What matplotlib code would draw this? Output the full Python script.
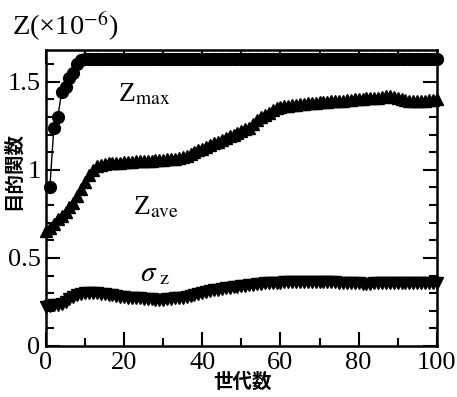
import numpy as np
import matplotlib
matplotlib.use("Agg")
import matplotlib.pyplot as plt
from matplotlib.ticker import MultipleLocator

plt.rcParams['font.family'] = ['Liberation Serif', 'DejaVu Serif']
plt.rcParams['mathtext.fontset'] = 'stix'

# generations
gen = list(range(0, 101))
gen_max = list(range(1, 101))

# Z_max (best objective), gen 1..100
z_max = [0.905, 1.24, 1.30, 1.44, 1.47, 1.52, 1.55, 1.60, 1.625, 1.63,
         1.63, 1.63, 1.63, 1.63, 1.63, 1.63, 1.63, 1.63, 1.63, 1.63,
         1.63, 1.63, 1.63, 1.63, 1.63, 1.63, 1.63, 1.63, 1.63, 1.63,
         1.63, 1.63, 1.63, 1.63, 1.63, 1.63, 1.63, 1.63, 1.63, 1.63,
         1.63, 1.63, 1.63, 1.63, 1.63, 1.63, 1.63, 1.63, 1.63, 1.63,
         1.63, 1.63, 1.63, 1.63, 1.63, 1.63, 1.63, 1.63, 1.63, 1.63,
         1.63, 1.63, 1.63, 1.63, 1.63, 1.63, 1.63, 1.63, 1.63, 1.63,
         1.63, 1.63, 1.63, 1.63, 1.63, 1.63, 1.63, 1.63, 1.63, 1.63,
         1.63, 1.63, 1.63, 1.63, 1.63, 1.63, 1.63, 1.63, 1.63, 1.63,
         1.63, 1.63, 1.63, 1.63, 1.63, 1.63, 1.63, 1.63, 1.63, 1.63]

# Z_ave (mean objective), gen 0..100
z_ave = [0.65, 0.67, 0.69, 0.72, 0.74, 0.76, 0.79, 0.81, 0.85, 0.89,
         0.93, 0.97, 1.00, 1.02, 1.03, 1.035, 1.04, 1.04, 1.04, 1.04,
         1.045, 1.045, 1.045, 1.05, 1.05, 1.05, 1.05, 1.05, 1.055, 1.055,
         1.055, 1.06, 1.06, 1.06, 1.065, 1.07, 1.08, 1.09, 1.10, 1.11,
         1.12, 1.13, 1.14, 1.15, 1.16, 1.17, 1.18, 1.19, 1.20, 1.21,
         1.22, 1.23, 1.24, 1.26, 1.28, 1.30, 1.31, 1.325, 1.34, 1.35,
         1.355, 1.36, 1.365, 1.37, 1.37, 1.375, 1.375, 1.38, 1.38, 1.38,
         1.385, 1.385, 1.385, 1.39, 1.39, 1.39, 1.39, 1.395, 1.395, 1.40,
         1.40, 1.40, 1.405, 1.41, 1.41, 1.41, 1.415, 1.42, 1.42, 1.415,
         1.41, 1.40, 1.395, 1.39, 1.39, 1.39, 1.39, 1.39, 1.395, 1.395,
         1.40]

# sigma_z, gen 0..100
sigma = [0.22, 0.225, 0.23, 0.235, 0.24, 0.25, 0.265, 0.28, 0.29, 0.295,
         0.30, 0.30, 0.30, 0.30, 0.295, 0.295, 0.29, 0.29, 0.285, 0.28,
         0.28, 0.275, 0.275, 0.27, 0.27, 0.265, 0.265, 0.265, 0.26, 0.26,
         0.26, 0.265, 0.265, 0.27, 0.27, 0.275, 0.28, 0.285, 0.29, 0.295,
         0.30, 0.305, 0.31, 0.315, 0.32, 0.325, 0.33, 0.33, 0.335, 0.335,
         0.34, 0.34, 0.345, 0.345, 0.35, 0.35, 0.355, 0.355, 0.36, 0.36,
         0.36, 0.365, 0.365, 0.365, 0.365, 0.365, 0.365, 0.365, 0.365, 0.365,
         0.365, 0.365, 0.365, 0.365, 0.365, 0.36, 0.36, 0.36, 0.355, 0.355,
         0.355, 0.35, 0.35, 0.35, 0.355, 0.355, 0.355, 0.36, 0.36, 0.36,
         0.36, 0.36, 0.36, 0.36, 0.36, 0.36, 0.36, 0.36, 0.36, 0.36,
         0.36]

fig = plt.figure(figsize=(4.57, 3.97), dpi=100)
ax = fig.add_axes([0.1007, 0.1285, 0.855, 0.7455])

ax.plot(gen_max, z_max, '-o', color='black', lw=1.0, ms=8.5, clip_on=False, zorder=3)
ax.plot(gen, z_ave, '-^', color='black', lw=1.0, ms=8.5, clip_on=False, zorder=3)
ax.plot(gen, sigma, '-v', color='black', lw=1.0, ms=8.5, clip_on=False, zorder=3)

ax.set_xlim(0, 100)
ax.set_ylim(0, 1.68)
ax.xaxis.set_major_locator(MultipleLocator(20))
ax.xaxis.set_minor_locator(MultipleLocator(10))
ax.yaxis.set_minor_locator(MultipleLocator(0.1))
ax.set_yticks([0, 0.5, 1, 1.5])
ax.set_yticklabels(['0', '0.5', '1', '1.5'])

ax.tick_params(which='both', direction='in', top=True, right=True,
               labelsize=19, width=1.5)
ax.tick_params(which='major', length=10, pad=4)
ax.tick_params(which='minor', length=6)
for s in ax.spines.values():
    s.set_linewidth(1.8)

ax.text(18.5, 1.39, r'Z$_{\mathrm{max}}$', fontsize=20)
ax.text(22.3, 0.745, r'Z$_{\mathrm{ave}}$', fontsize=20)
ax.text(24.0, 0.366, r'$\sigma_{\ \mathrm{z}}$', fontsize=21)

fig.text(12 / 457, 1 - 35 / 397, r'Z(×10$^{-6}$)', fontsize=20.5, va='baseline')
fig.text(13 / 457, 1 - 171 / 397, '目的関数', rotation=90, ha='center', va='center',
         fontsize=14, weight='bold', family=['Noto Sans CJK JP'])
fig.text(243 / 457, 1 - 382 / 397, '世代数', ha='center', va='center',
         fontsize=14, weight='bold', family=['Noto Sans CJK JP'])

fig.savefig('out.png', dpi=100)
